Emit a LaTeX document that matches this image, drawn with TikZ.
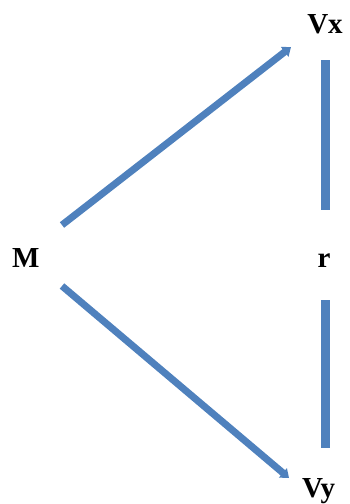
\documentclass[tikz,border=0pt]{standalone}
\usepackage{fontspec}
\setmainfont{Liberation Serif}
\usetikzlibrary{arrows.meta}
\definecolor{linkblue}{HTML}{4F81BD}
\tikzset{
  lbl/.style={font=\fontsize{29}{31}\selectfont\bfseries, inner sep=0pt, text=black},
  conn/.style={draw=linkblue, line width=7pt, -{Triangle[width=12pt,length=8pt]}},
  bar/.style={draw=linkblue, line width=9pt}
}
\begin{document}
\begin{tikzpicture}[x=1pt,y=-1pt]
\useasboundingbox (0,0) rectangle (350,504);
\node[lbl, anchor=base] (Vx) at (325,33) {Vx};
\node[lbl, anchor=base west] (M) at (12,267) {M};
\node[lbl, anchor=base] (r) at (324,267) {r};
\node[lbl, anchor=base west] (Vy) at (302,497) {Vy};
\coordinate (a1) at (62,225);
\coordinate (a2) at (291,47);
\coordinate (b1) at (62,286);
\coordinate (b2) at (289,478);
\coordinate (t1) at (325,60);
\coordinate (t2) at (325,210);
\coordinate (u1) at (325,300);
\coordinate (u2) at (325,448);
\draw[conn] (a1) -- (a2);
\draw[conn] (b1) -- (b2);
\draw[bar] (t1) -- (t2);
\draw[bar] (u1) -- (u2);
\end{tikzpicture}
\end{document}
